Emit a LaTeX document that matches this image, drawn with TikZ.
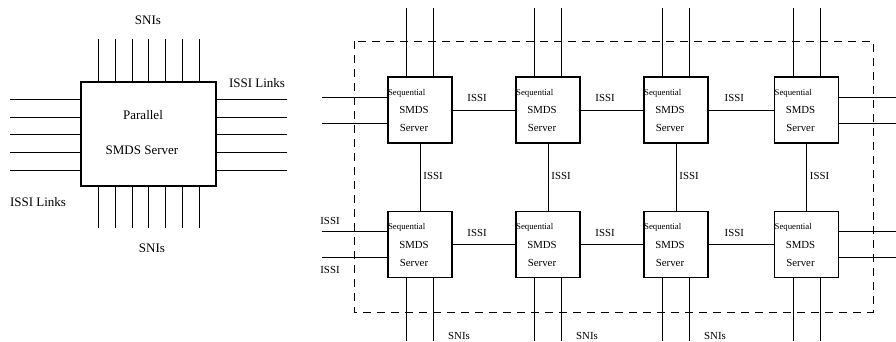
\documentclass[tikz,border=0pt]{standalone}
\usepackage{fontspec}
\setmainfont{Liberation Serif}
\begin{document}
\begin{tikzpicture}[x=1pt,y=-1pt,
  bigbox/.style={draw,line width=1.2pt,minimum width=135pt,minimum height=104pt,inner sep=0pt},
  seqbox/.style={draw,line width=1.2pt,minimum width=64pt,minimum height=66pt,inner sep=0pt},
  wire/.style={line width=1pt},
  lbig/.style={font=\fontsize{13}{15}\selectfont,inner sep=0pt},
  lsmall/.style={font=\fontsize{10.8}{12}\selectfont,inner sep=0pt},
  lseq/.style={font=\fontsize{8.8}{10}\selectfont,inner sep=0pt,anchor=west},
  frame/.style={line width=1pt,dash pattern=on 8pt off 6pt}]
\useasboundingbox (0,0) rectangle (896,341);

% ---------- left: parallel server ----------
\node[bigbox] (par) at (148.5,134) {};
\node[lbig] (parA) at (143,115) {Parallel};
\node[lbig] (parB) at (142,150) {SMDS Server};
\foreach \x [count=\i] in {98,115,132,148,165,182,199}{
  \coordinate (pt\i) at (\x,39);
  \coordinate (pb\i) at (\x,228);
  \draw[wire] (pt\i) -- (pt\i |- par.north);
  \draw[wire] (pb\i) -- (pb\i |- par.south);
}
\foreach \y [count=\i] in {99,117,134,152,170}{
  \coordinate (pl\i) at (10,\y);
  \coordinate (pr\i) at (287,\y);
  \draw[wire] (pl\i) -- (pl\i -| par.west);
  \draw[wire] (pr\i) -- (pr\i -| par.east);
}
\node[lbig] (sniT) at (148,20) {SNIs};
\node[lbig] (sniB) at (152,248) {SNIs};
\node[lbig] (issiR) at (257,83) {ISSI Links};
\node[lbig] (issiL) at (38,202) {ISSI Links};

% ---------- right: mesh of sequential servers ----------
\draw[frame] (354,41) rectangle (873,312);

\foreach \c [count=\j] in {420,548,676,806.5}{
  \foreach \r/\yc in {1/110,2/244.5}{
    \node[seqbox] (s\r\j) at (\c,\yc) {};
    \node[lseq] (q\r\j) at ([xshift=0.5pt,yshift=17pt]s\r\j.west) {Sequential};
    \node[lsmall] (m\r\j) at ([xshift=-6pt,yshift=0pt]s\r\j.center) {SMDS};
    \node[lsmall] (v\r\j) at ([xshift=-6pt,yshift=-18pt]s\r\j.center) {Server};
  }
  % SNI lines top and bottom
  \coordinate (ta\j) at (\c-13.5,8);
  \coordinate (tb\j) at (\c+13.5,8);
  \coordinate (ba\j) at (\c-13.5,341);
  \coordinate (bb\j) at (\c+13.5,341);
  \draw[wire] (ta\j) -- (ta\j |- s1\j.north);
  \draw[wire] (tb\j) -- (tb\j |- s1\j.north);
  \draw[wire] (ba\j) -- (ba\j |- s2\j.south);
  \draw[wire] (bb\j) -- (bb\j |- s2\j.south);
  % vertical ISSI
  \draw[wire] (s1\j.south) -- (s2\j.north);
  \node[lsmall] (vi\j) at (\c+13,176) {ISSI};
}
% horizontal ISSI links
\foreach \a/\b in {1/2,2/3,3/4}{
  \foreach \r in {1,2}{
    \draw[wire] (s\r\a.east) -- (s\r\b.west);
    \path (s\r\a.east) -- (s\r\b.west) node[lsmall,pos=0.5,xshift=-7pt,yshift=12pt] (h\r\a) {ISSI};
  }
}
% external links on left and right
\foreach \r in {1,2}{
  \draw[wire] ([yshift=13pt]s\r1.west) -- ++(-65,0) coordinate (lu\r);
  \draw[wire] ([yshift=-13pt]s\r1.west) -- ++(-65,0) coordinate (ld\r);
  \draw[wire] ([yshift=13pt]s\r4.east) -- ++(60,0) coordinate (ru\r);
  \draw[wire] ([yshift=-13pt]s\r4.east) -- ++(60,0) coordinate (rd\r);
}
\node[lsmall] (li1) at (330,221) {ISSI};
\node[lsmall] (li2) at (330,270) {ISSI};
\node[lsmall] (sn1) at (459,336) {SNIs};
\node[lsmall] (sn2) at (587,336) {SNIs};
\node[lsmall] (sn3) at (715,336) {SNIs};
\end{tikzpicture}
\end{document}
